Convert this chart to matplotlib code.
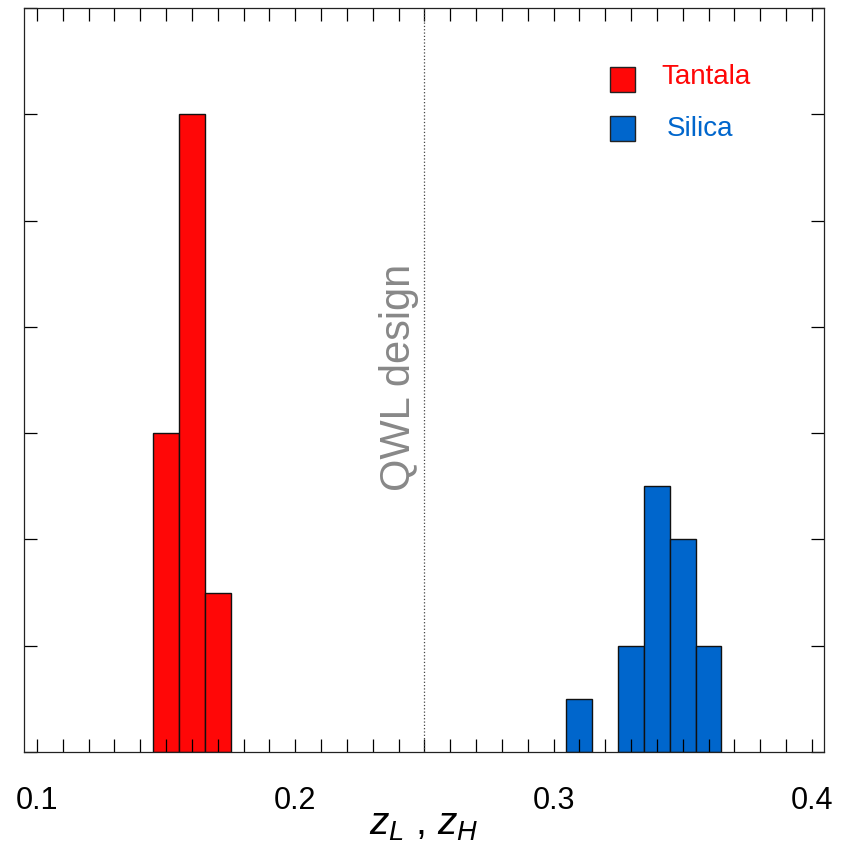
import numpy as np
import matplotlib
matplotlib.use("Agg")
import matplotlib.pyplot as plt
from matplotlib.ticker import MultipleLocator

plt.rcParams['font.family'] = ['Liberation Sans', 'DejaVu Sans']
plt.rcParams['mathtext.fontset'] = 'custom'
plt.rcParams['mathtext.it'] = 'Liberation Sans:italic'
plt.rcParams['mathtext.rm'] = 'Liberation Sans'

# histogram data (bin edges and counts)
tantala_edges = [0.145, 0.155, 0.165, 0.175]
tantala_counts = [6, 12, 3]
silica_edges = [0.305, 0.315, 0.325, 0.335, 0.345, 0.355, 0.365]
silica_counts = [1, 0, 2, 5, 4, 2]
qwl_design = 0.25
xticks = [0.1, 0.2, 0.3, 0.4]

red = '#ff0707'
blue = '#0066cc'

fig = plt.figure(figsize=(8.49, 8.45), dpi=100)
ax = fig.add_axes([0.0283, 0.1089, 0.9423, 0.8804])

# bars with thin dark outlines
for edges, counts, col in [(tantala_edges, tantala_counts, red),
                           (silica_edges, silica_counts, blue)]:
    for i, c in enumerate(counts):
        if c > 0:
            ax.bar(edges[i], c, width=edges[i + 1] - edges[i], align='edge',
                   color=col, edgecolor='#111111', linewidth=1.0)

ax.axvline(qwl_design, color='#444444', linestyle=':', linewidth=0.9)
ax.text(0.2401, 7.06, 'QWL design', rotation=90, color='#888888',
        fontsize=30, ha='center', va='center')

# legend drawn by hand (axes coords)
ax.add_patch(plt.Rectangle((0.7325, 0.8866), 0.0313, 0.0336, transform=ax.transAxes,
                           facecolor=red, edgecolor='#222222', linewidth=1.0))
ax.add_patch(plt.Rectangle((0.7325, 0.8207), 0.0313, 0.0336, transform=ax.transAxes,
                           facecolor=blue, edgecolor='#222222', linewidth=1.0))
ax.text(0.797, 0.9086, 'Tantala', color=red, fontsize=20, va='center', ha='left',
        transform=ax.transAxes)
ax.text(0.803, 0.8387, 'Silica', color=blue, fontsize=20, va='center', ha='left',
        transform=ax.transAxes)

ax.set_xlim(0.095, 0.4047)
ax.set_ylim(0, 14)
ax.set_xticks(xticks)
ax.set_xticklabels([f'{t:.1f}' for t in xticks])
ax.xaxis.set_minor_locator(MultipleLocator(0.01))
ax.yaxis.set_major_locator(MultipleLocator(2))
ax.tick_params(which='both', direction='in', length=9.4, width=0.9,
               top=True, right=True, labelsize=22, pad=24)
ax.tick_params(axis='y', labelleft=False)
for s in ax.spines.values():
    s.set_linewidth(0.9)
    s.set_color('#222222')

ax.set_xlabel('$z_L$ , $z_H$', fontsize=28, labelpad=-7)

fig.savefig('out.png', dpi=100)
